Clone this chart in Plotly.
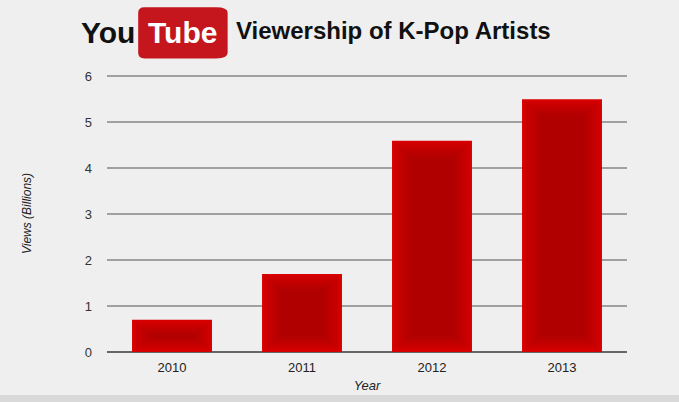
import plotly.graph_objects as go

years = ["2010", "2011", "2012", "2013"]
views = [0.7, 1.7, 4.6, 5.5]
y_ticks = [0, 1, 2, 3, 4, 5, 6]

BG = "#efefef"
fig = go.Figure()

# base bar
fig.add_trace(go.Bar(x=years, y=views, width=0.615, marker=dict(color="#d80000", line=dict(width=0)),
                     hoverinfo="skip"))
# soft darker centre layers to mimic radial shading
n_layers = 10
for k in range(n_layers):
    w = 0.60 - 0.03 * k
    pad = 0.035 * (k + 1)
    hs, bs = [], []
    for v in views:
        h = v - 2 * pad
        if h < 0.04:
            h = 0.04
        hs.append(h)
        bs.append((v - h) / 2)
    fig.add_trace(go.Bar(x=years, y=hs, base=bs, width=w,
                         marker=dict(color="rgba(120,0,0,0.045)", line=dict(width=0)),
                         hoverinfo="skip"))

fig.update_layout(
    width=679, height=402,
    margin=dict(l=107, r=52, t=75, b=47),
    paper_bgcolor=BG, plot_bgcolor=BG,
    barmode="overlay", showlegend=False,
    font=dict(family="Liberation Sans, Arial, sans-serif", color="#333"),
    xaxis=dict(showgrid=False, ticks="", ticklabelstandoff=6, tickfont=dict(size=13, color="#222"),
               title=dict(text="<i>Year</i>", font=dict(size=13, color="#222"), standoff=6)),
    yaxis=dict(range=[0, 6.03], tickvals=y_ticks, showgrid=True, gridcolor="#a0a0a0", gridwidth=2,
               zeroline=True, zerolinecolor="#666", zerolinewidth=2,
               ticks="", ticklabelstandoff=14, tickfont=dict(size=13, color="#333"),
               title=dict(text="<i>Views (Billions)</i>", font=dict(size=12, color="#222"), standoff=50)),
    shapes=[
        dict(type="rect", xref="paper", yref="paper", x0=-0.3, x1=1.2, y0=-0.2, y1=-0.155,
             fillcolor="#d9d9d9", line=dict(width=0), layer="below"),
        dict(type="path", xref="paper", yref="paper",
             path="M 0.072 1.245 L 0.210 1.245 Q 0.232 1.245 0.232 1.225 L 0.232 1.08 Q 0.232 1.06 0.210 1.06 "
                  "L 0.072 1.06 Q 0.060 1.06 0.060 1.08 L 0.060 1.225 Q 0.060 1.245 0.072 1.245 Z",
             fillcolor="#c4161c", line=dict(width=0), layer="above"),
    ],
    annotations=[
        dict(text="<b>You</b>", xref="paper", yref="paper", x=0.058, y=1.155, xanchor="right", yanchor="middle",
             showarrow=False, font=dict(family="Liberation Sans, Arial, sans-serif", size=30, color="#111")),
        dict(text="<b>Tube</b>", xref="paper", yref="paper", x=0.146, y=1.155, xanchor="center", yanchor="middle",
             showarrow=False, font=dict(family="Liberation Sans, Arial, sans-serif", size=30, color="white")),
        dict(text="<b>Viewership of K-Pop Artists</b>", xref="paper", yref="paper", x=0.245, y=1.16,
             xanchor="left", yanchor="middle", showarrow=False,
             font=dict(family="Liberation Sans, Arial, sans-serif", size=24, color="#111")),
    ],
)

fig.write_html("out.html")
